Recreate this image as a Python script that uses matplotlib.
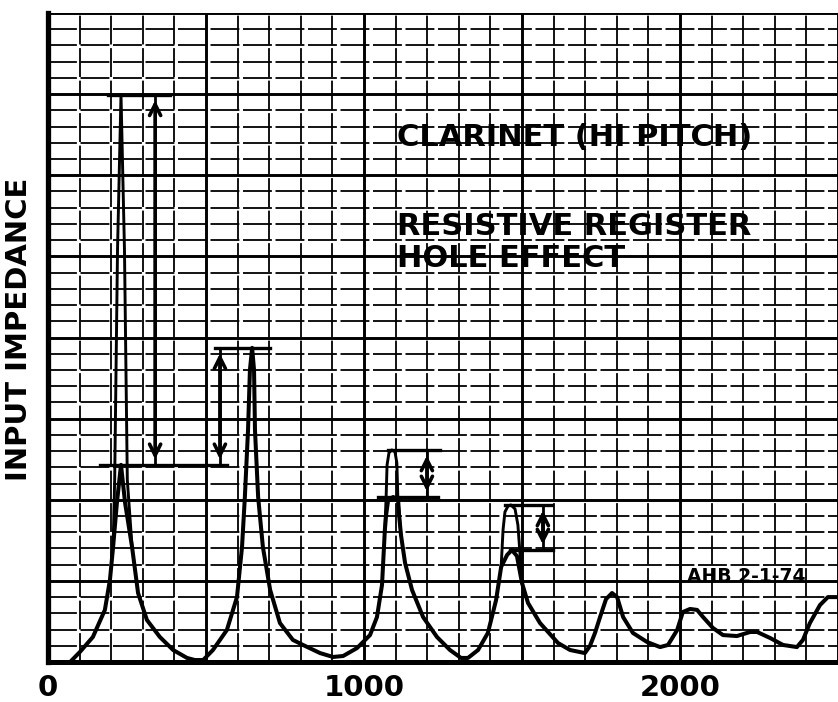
import matplotlib.pyplot as plt
from matplotlib.ticker import MultipleLocator

# impedance curve, register hole open (frequency in Hz, height in chart divisions)
freq = [54, 70, 101, 142, 180, 196, 206, 218, 231, 244, 266, 285, 313, 354, 396,
        440, 465, 491, 522, 566, 598, 614, 623, 633, 639, 646, 652, 655, 665, 680,
        703, 734, 775, 807, 861, 902, 934, 978, 1019, 1041, 1057, 1066, 1070, 1076,
        1092, 1108, 1111, 1117, 1130, 1152, 1187, 1231, 1272, 1307, 1329, 1361,
        1392, 1418, 1434, 1453, 1468, 1484, 1500, 1519, 1557, 1614, 1652, 1699,
        1715, 1731, 1747, 1766, 1785, 1801, 1820, 1851, 1896, 1937, 1962, 1991,
        2009, 2032, 2054, 2073, 2104, 2136, 2180, 2222, 2244, 2285, 2326, 2370,
        2389, 2411, 2443, 2468, 2497]
imp = [0, 0, 0.62, 1.54, 3.21, 5.06, 7.09, 9.8, 12.15, 9.8, 7.09, 4.25, 2.59, 1.54,
       0.74, 0.25, 0.12, 0.12, 0.74, 1.97, 4.0, 7.09, 10.17, 14.3, 18.0, 19.36,
       18.0, 14.3, 10.17, 7.09, 4.44, 2.4, 1.36, 1.05, 0.55, 0.31, 0.37, 0.86,
       1.66, 2.77, 4.75, 8.14, 9.06, 9.93, 10.17, 9.99, 9.06, 7.83, 6.1, 4.44,
       2.77, 1.54, 0.74, 0.25, 0.25, 0.74, 1.79, 3.82, 5.86, 6.6, 6.9, 6.53, 4.87,
       3.64, 2.4, 1.17, 0.74, 0.55, 0.99, 1.79, 2.77, 3.88, 4.25, 4.0, 2.77, 1.79,
       1.23, 0.92, 1.05, 1.97, 3.08, 3.27, 3.21, 2.77, 2.1, 1.66, 1.6, 1.85, 1.85,
       1.48, 1.05, 0.92, 1.36, 2.4, 3.51, 4.0, 4.0]

# register hole closed: peaks that rise above the open-hole curve
closed1_f = [206, 211, 220, 231, 242, 251, 266]
closed1_z = [7.09, 11.22, 25.4, 34.96, 25.4, 11.22, 7.09]
closed3_f = [1066, 1070, 1073, 1079, 1088, 1098, 1104, 1107, 1117]
closed3_z = [8.14, 10.17, 12.15, 12.89, 13.07, 12.95, 12.27, 10.17, 7.83]
closed4_f = [1434, 1440, 1446, 1456, 1465, 1478, 1487, 1494, 1500]
closed4_z = [5.86, 8.14, 9.25, 9.62, 9.68, 9.43, 8.45, 6.6, 4.87]

# level marks: (height, from Hz, to Hz)
levels = [(34.96, 190, 386), (12.15, 165, 566), (19.36, 528, 703),
          (13.07, 1076, 1240), (10.17, 1044, 1234),
          (9.68, 1446, 1595), (6.9, 1462, 1598)]
# double arrows: (Hz, bottom, top)
arrows = [(339, 12.15, 34.96), (544, 12.15, 19.36),
          (1199, 10.17, 13.07), (1566, 6.9, 9.68)]

fig = plt.figure(figsize=(8.38, 7.02), dpi=100)
ax = fig.add_axes([48 / 838, 40 / 702, 790 / 838, 649 / 702])
ax.set_xlim(0, 2500)
ax.set_ylim(0, 40)

ax.xaxis.set_major_locator(MultipleLocator(500))
ax.xaxis.set_minor_locator(MultipleLocator(100))
ax.yaxis.set_major_locator(MultipleLocator(5))
ax.yaxis.set_minor_locator(MultipleLocator(1))
ax.set_xticks([0, 500, 1000, 1500, 2000, 2500],
              labels=['0', '', '1000', '', '2000', ''])
ax.set_yticklabels([])
ax.tick_params(which='both', length=0)
ax.tick_params(axis='x', labelsize=21, pad=9)
for lab in ax.get_xticklabels():
    lab.set_fontweight('bold')

ax.grid(which='major', color='k', lw=2.1)
ax.grid(which='minor', color='k', lw=1.3, ls=(0, (16, 2)))
ax.set_axisbelow(True)

for s in ['top', 'right']:
    ax.spines[s].set_visible(False)
ax.spines['left'].set_linewidth(3.8)
ax.spines['bottom'].set_linewidth(3.6)

ax.plot(freq, imp, color='k', lw=2.9, solid_joinstyle='round')
for f, z in [(closed1_f, closed1_z), (closed3_f, closed3_z), (closed4_f, closed4_z)]:
    ax.plot(f, z, color='k', lw=2.1, solid_joinstyle='round')

for z, f0, f1 in levels:
    ax.plot([f0, f1], [z, z], color='k', lw=2.4)
for f, z0, z1 in arrows:
    ax.plot([f, f], [z0, z1], color='k', lw=2.0)
    ax.annotate('', xy=(f, z1), xytext=(f, z0),
                arrowprops=dict(arrowstyle='<->', lw=2.6, color='k',
                                mutation_scale=20, shrinkA=4, shrinkB=4))

ax.text(1104, 31.8, 'CLARINET (HI PITCH)', fontsize=22, fontweight='bold',
        va='baseline')
ax.text(1104, 26.3, 'RESISTIVE REGISTER', fontsize=22, fontweight='bold',
        va='baseline')
ax.text(1104, 24.35, 'HOLE EFFECT', fontsize=22, fontweight='bold', va='baseline')
ax.text(2022, 4.93, 'AHB 2-1-74', fontsize=13.5, fontweight='bold', va='baseline')

ax.set_ylabel('INPUT IMPEDANCE', fontsize=21, fontweight='bold')
ax.yaxis.set_label_coords(-0.019, 0.512)

fig.savefig('out.png', dpi=100)
